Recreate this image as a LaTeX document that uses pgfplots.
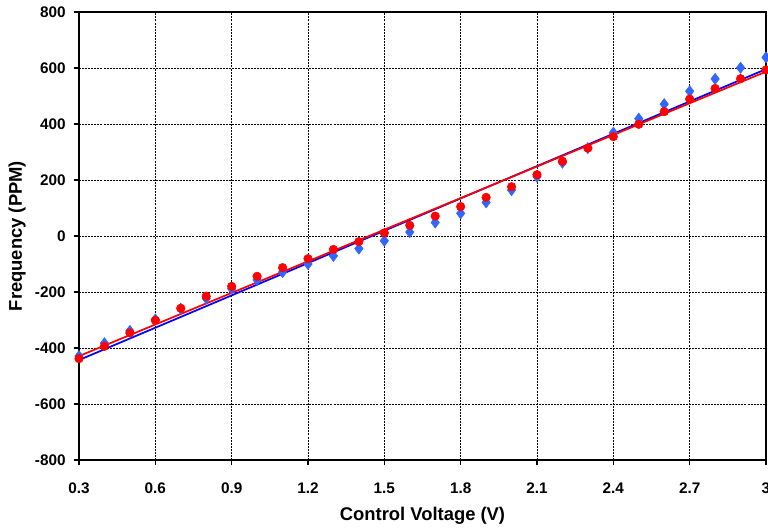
\documentclass[border=0pt]{standalone}
\usepackage{fontspec}
\setmainfont{Liberation Sans}
\usepackage{pgfplots}
\pgfplotsset{compat=1.18}
\definecolor{ptblue}{RGB}{51,102,255}
\definecolor{lnblue}{RGB}{0,0,255}
\definecolor{ptred}{RGB}{255,0,0}

\begin{document}
\begin{tikzpicture}
\begin{axis}[
  scale only axis,
  width=515.25pt, height=336pt,
  xmin=0.3, xmax=3, ymin=-800, ymax=800,
  xtick={0.3,0.6,0.9,1.2,1.5,1.8,2.1,2.4,2.7,3},
  xticklabels={0.3,0.6,0.9,1.2,1.5,1.8,2.1,2.4,2.7,3},
  ytick={-800,-600,-400,-200,0,200,400,600,800},
  grid=major,
  major grid style={black, line width=0.6pt, dash pattern=on 1.5pt off 0.8pt},
  axis line style={black, line width=0.9pt},
  tick align=outside, xtick pos=bottom, ytick pos=left,
  major tick length=4pt,
  tick style={black, line width=0.9pt},
  /pgf/number format/assume math mode=true,
  ticklabel style={font=\fontsize{11.5}{13}\selectfont\bfseries},
  xticklabel style={yshift=-9.5pt},
  yticklabel style={xshift=-2.5pt},
  xlabel={Control Voltage (V)},
  ylabel={Frequency (PPM)},
  label style={font=\fontsize{13.8}{16}\selectfont\bfseries},
  xlabel style={at={(rel axis cs:0.5,0)}, anchor=center, yshift=-42pt},
  ylabel style={at={(axis description cs:-0.0902,0.5)}, anchor=center},
  clip mode=individual,
]
% trend lines
\addplot[lnblue, line width=1.3pt] coordinates {(0.3,-443) (3,596)};
\addplot[ptred, line width=1.3pt] coordinates {(0.3,-429) (3,587)};
% measured
\addplot[only marks, mark=diamond*, mark size=4.2pt, color=ptblue] coordinates {
(0.3,-429) (0.4,-383) (0.5,-339) (0.6,-298) (0.7,-260) (0.8,-223) (0.9,-188)
(1.0,-157) (1.1,-129) (1.2,-100) (1.3,-71) (1.4,-45) (1.5,-17) (1.6,14)
(1.7,48) (1.8,81) (1.9,120) (2.0,164) (2.1,212) (2.2,262) (2.3,314)
(2.4,369) (2.5,419) (2.6,471) (2.7,517) (2.8,561) (2.9,601) (3.0,638)
};
\addplot[only marks, mark=*, mark size=3.2pt, color=ptred] coordinates {
(0.3,-438) (0.4,-394) (0.5,-346) (0.6,-301) (0.7,-258) (0.8,-215) (0.9,-180)
(1.0,-144) (1.1,-113) (1.2,-81) (1.3,-48) (1.4,-20) (1.5,11) (1.6,38)
(1.7,71) (1.8,105) (1.9,138) (2.0,176) (2.1,219) (2.2,267) (2.3,314)
(2.4,355) (2.5,399) (2.6,444) (2.7,489) (2.8,527) (2.9,562) (3.0,593)
};
\end{axis}
\pgfresetboundingbox
\path[use as bounding box] (-59.25pt,-53.25pt) rectangle (516.75pt,345pt);
\end{tikzpicture}
\end{document}
